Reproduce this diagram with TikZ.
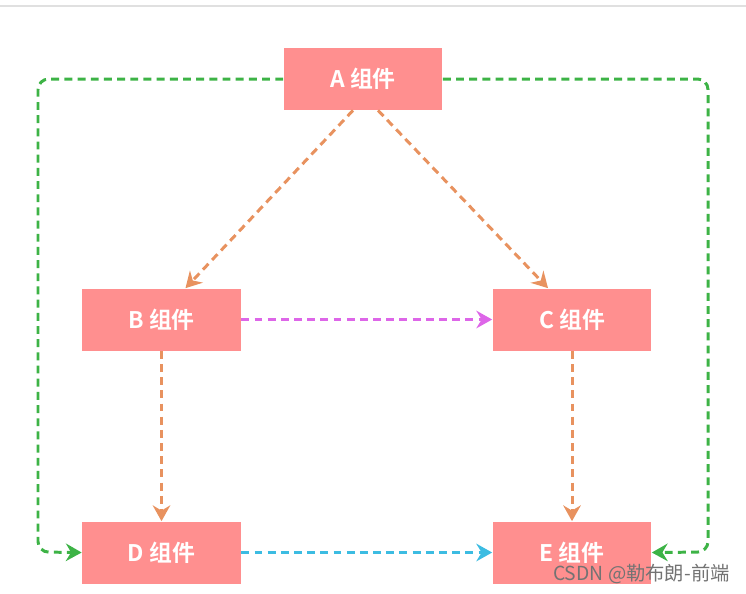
\documentclass[tikz,border=0pt]{standalone}
\usepackage{fontspec}
\setmainfont{Noto Sans CJK SC}[BoldFont={Noto Sans CJK SC Bold}]
\usetikzlibrary{arrows.meta}
\definecolor{boxred}{HTML}{FF8F8F}
\definecolor{linkorange}{HTML}{E8925F}
\definecolor{linkgreen}{HTML}{3DB346}
\definecolor{linkpink}{HTML}{DD66E8}
\definecolor{linkcyan}{HTML}{3CBCE2}
\tikzset{
    comp/.style={fill=boxred, text=white, font=\fontsize{13}{15}\selectfont\bfseries,
        minimum width=3.18cm, minimum height=1.24cm, inner sep=0pt},
    link/.style={line width=1.7pt, dash pattern=on 4.5pt off 3pt,
        -{Stealth[length=9pt,width=10pt,inset=3pt]}},
}
\begin{document}
\begin{tikzpicture}[x=0.02cm,y=-0.02cm]
        \useasboundingbox (0,0) rectangle (746,593);
        %% Top rule
        \draw[line width=1.2pt,black!12] (0,6) -- (746,6);
        %% Components
        \node[comp] (a) at (363,79) {A 组件};
        \node[comp] (b) at (161.5,319.5) {B 组件};
        \node[comp] (c) at (572,319.5) {C 组件};
        \node[comp] (d) at (161.5,552.5) {D 组件};
        \node[comp] (e) at (572,552.5) {E 组件};
        %% From A down to B and C
        \draw[link,linkorange] ([xshift=-0.2cm]a.south) -- ([xshift=0.48cm]b.north);
        \draw[link,linkorange] ([xshift=0.3cm]a.south) -- ([xshift=-0.48cm]c.north);
        %% B to C
        \draw[link,linkpink] (b.east) -- (c.west);
        %% Down to D and E
        \draw[link,linkorange] (b.south) -- (d.north);
        \draw[link,linkorange] (c.south) -- (e.north);
        %% D to E
        \draw[link,linkcyan] (d.east) -- (e.west);
        %% Outer paths
        \draw[link,linkgreen,rounded corners=6pt] (a.west) -| (38,552) -- (d.west);
        \draw[link,linkgreen,rounded corners=6pt] (a.east) -| (708,552) -- (e.east);
        %% Watermark
        \node[anchor=east,inner xsep=0pt,text=black!55,font=\fontsize{11}{13}\selectfont] (mark) at (730,574) {CSDN @勒布朗-前端};
    \end{tikzpicture}
\end{document}
